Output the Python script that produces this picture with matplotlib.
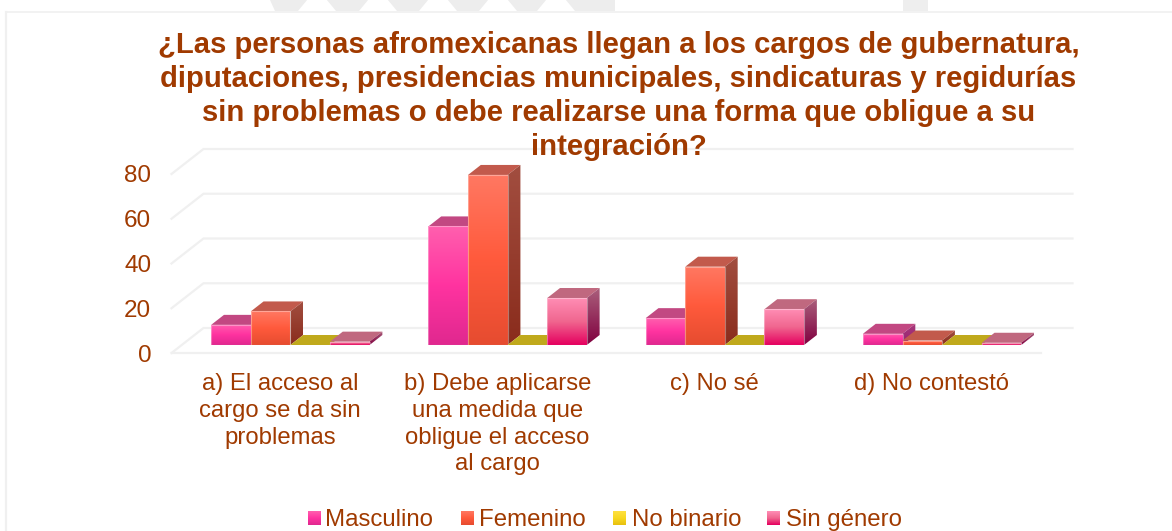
import matplotlib
matplotlib.use('Agg')
import matplotlib.pyplot as plt
import numpy as np
from matplotlib.colors import LinearSegmentedColormap
from matplotlib.patches import Polygon, Rectangle

plt.rcParams['font.family'] = ['Liberation Sans', 'DejaVu Sans']

title = ('¿Las personas afromexicanas llegan a los cargos de gubernatura,\n'
         'diputaciones, presidencias municipales, sindicaturas y regidurías\n'
         'sin problemas o debe realizarse una forma que obligue a su\n'
         'integración?')
categories = ['a) El acceso al\ncargo se da sin\nproblemas',
              'b) Debe aplicarse\nuna medida que\nobligue el acceso\nal cargo',
              'c) No sé',
              'd) No contestó']
series = ['Masculino', 'Femenino', 'No binario', 'Sin género']
masculino = [9, 53, 12, 5]
femenino = [15, 76, 35, 2]
no_binario = [0, 0, 0, 0]
sin_genero = [1.5, 21, 16, 1]
values = [masculino, femenino, no_binario, sin_genero]
yticks = [0, 20, 40, 60, 80]

TEXT = '#A03A00'
GRID = '#F0F0F0'
W, H = 1172, 531
# colours per series: front gradient, side gradient, top face
FRONT = [['#FF5FAE', '#FF33A0', '#E0288F'],
         ['#FF7862', '#FF5A3C', '#E64C30'],
         ['#FFE040', '#F8D820', '#E8C010'],
         ['#FF8DB4', '#F0668F', '#E5005F']]
SIDE = [['#A83A7C', '#982070'],
        ['#A24E40', '#8A2C1C'],
        ['#A08A10', '#907C10'],
        ['#AA5F7C', '#80003F']]
TOP = ['#C24882', '#C25A4C', '#C0A91C', '#C0687F']

# pixel layout of the front plane and of the 3d depth
AX_L, AX_R, AX_B = 171.5, 1040.5, 353
PX_PER_UNIT = 2.2375
AX_T = AX_B - 100 * PX_PER_UNIT
PX_PER_CAT = (AX_R - AX_L) / 4
DX = 32 / PX_PER_CAT
DY = 25 / PX_PER_UNIT
BAR_W = 39.6 / PX_PER_CAT
D0, D1 = 0.32, 0.72


def project(x, v, depth):
    return (x + depth * DX, v + depth * DY)


def gradient_face(ax, verts, colors, zorder):
    poly = Polygon(verts, closed=True, facecolor='none', edgecolor='none',
                   zorder=zorder)
    ax.add_patch(poly)
    xs, ys = zip(*verts)
    cmap = LinearSegmentedColormap.from_list('face', colors)
    grad = np.linspace(0, 1, 128)[:, None]
    im = ax.imshow(grad, cmap=cmap, aspect='auto', origin='upper', zorder=zorder,
                   extent=(min(xs), max(xs), min(ys), max(ys)))
    im.set_clip_path(poly)


def draw_bar(ax, x, val, s, zorder):
    x0, x1 = x, x + BAR_W
    top = [project(x0, val, D0), project(x1, val, D0),
           project(x1, val, D1), project(x0, val, D1)]
    ax.add_patch(Polygon(top, closed=True, facecolor=TOP[s], edgecolor='none',
                         zorder=zorder))
    if val <= 0:
        return
    side = [project(x1, 0, D0), project(x1, 0, D1),
            project(x1, val, D1), project(x1, val, D0)]
    gradient_face(ax, side, SIDE[s], zorder)
    front = [project(x0, 0, D0), project(x1, 0, D0),
             project(x1, val, D0), project(x0, val, D0)]
    gradient_face(ax, front, FRONT[s], zorder + 0.01)
    ax.add_patch(Polygon(front, closed=True, facecolor='none', edgecolor='#FFFFFF',
                         alpha=0.35, linewidth=0.8, zorder=zorder + 0.02))


fig = plt.figure(figsize=(W / 100, H / 100), dpi=100, facecolor='white')

# page background: watermark at the top, card border, legend swatches
bg = fig.add_axes([0, 0, 1, 1], zorder=-1)
bg.set_xlim(0, W)
bg.set_ylim(H, 0)
bg.set_autoscale_on(False)
bg.axis('off')
bg.add_patch(Polygon([(270, 0), (615, 0), (615, 11), (275, 11)], facecolor='#EDEDED',
                     edgecolor='none'))
for cx in [317, 378, 438, 498, 556]:
    bg.add_patch(Polygon([(cx - 19, 11), (cx, -12), (cx + 19, 11)], facecolor='white',
                         edgecolor='none', zorder=2))
bg.add_patch(Rectangle((903, 0), 25, 11, facecolor='#EEEEEE', edgecolor='none'))
bg.plot([6, 6, W], [H, 11.5, 11.5], color='#F0F0F0', lw=1.2, zorder=3)
bg.plot([6, 6], [12, H], color='#F0F0F0', lw=1.6, zorder=3)

# legend
swatch_x = [308, 461, 613, 767]
legend_x = [325, 479, 632, 786]
for s, name in enumerate(series):
    cmap = LinearSegmentedColormap.from_list('sw', FRONT[s])
    bg.imshow(np.linspace(0, 1, 32)[:, None], cmap=cmap, aspect='auto',
              extent=(swatch_x[s], swatch_x[s] + 13, 525, 511), origin='upper')
    bg.text(legend_x[s], 520, name, color=TEXT, fontsize=17.3, va='center', ha='left')

ax = fig.add_axes([AX_L / W, 1 - AX_B / H, (AX_R - AX_L) / W, (AX_B - AX_T) / H])
ax.patch.set_alpha(0)
ax.set_xlim(-0.5, 3.5)
ax.set_ylim(0, 100)
ax.set_autoscale_on(False)
for sp in ax.spines.values():
    sp.set_visible(False)

# 3d style grid: diagonal on the side wall, then along the back wall
for v in yticks:
    bx, by = project(-0.5, v, 1)
    ax.plot([-0.5, bx, project(3.5, v, 1)[0]], [v, by, by], color=GRID, lw=1.6,
            clip_on=False, zorder=1, solid_joinstyle='miter')
ax.plot([-0.5, 3.5], [0, 0], color=GRID, lw=1.6, clip_on=False, zorder=1)

for i in range(len(categories)):
    for s in range(len(series)):
        draw_bar(ax, i + (s - 2) * BAR_W, values[s][i], s, 3 + s)

ax.set_yticks(yticks)
ax.set_yticklabels([str(t) for t in yticks], color=TEXT, fontsize=17.5)
ax.set_xticks(range(len(categories)))
ax.set_xticklabels(categories, color=TEXT, fontsize=17.2, linespacing=1.28)
ax.tick_params(axis='both', length=0)
ax.tick_params(axis='y', pad=14.5)
ax.tick_params(axis='x', pad=14.5)

fig.text(618.5 / W, 1 - 31 / H, title, color=TEXT, fontsize=21.1, fontweight='bold',
         ha='center', va='top', linespacing=1.278)

fig.savefig('out.png', dpi=100)
